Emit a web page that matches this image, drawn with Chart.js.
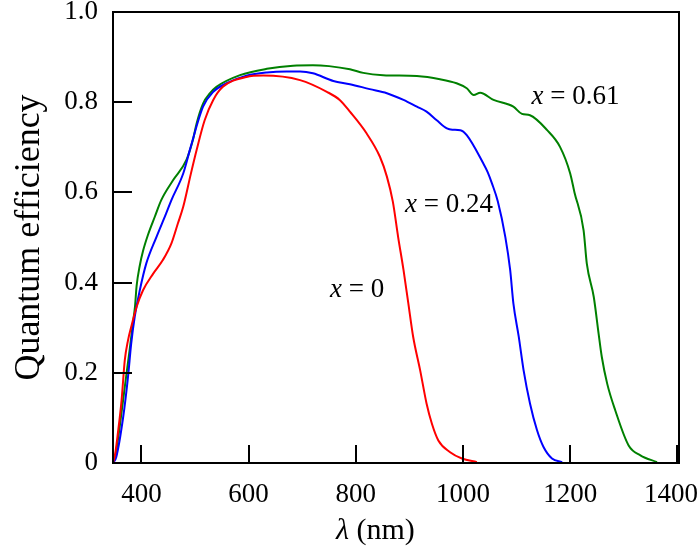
<!DOCTYPE html>
<html>
<head>
<meta charset="utf-8">
<script src="https://cdn.jsdelivr.net/npm/chart.js@4.4.1/dist/chart.umd.min.js"></script>
<style>
  html, body { margin: 0; padding: 0; background: #fff; }
  #wrap { width: 698px; height: 548px; }
</style>
</head>
<body>
<div id="wrap"><canvas id="qeChart" width="698" height="548"></canvas></div>
<script>
// wavelength (nm) and quantum efficiency
const redNm = [347, 351, 356, 363, 369, 375, 381, 391, 403, 422, 440, 456, 468, 478, 492, 503, 518, 534, 552, 596, 627, 696, 746, 770, 789, 820, 845, 858, 869, 879, 889, 898, 907, 920, 932, 942, 954, 976, 998, 1026];
const redQE = [0, 0.02, 0.065, 0.139, 0.228, 0.272, 0.302, 0.346, 0.383, 0.42, 0.45, 0.487, 0.531, 0.568, 0.64, 0.694, 0.76, 0.805, 0.834, 0.856, 0.859, 0.849, 0.823, 0.805, 0.779, 0.731, 0.679, 0.635, 0.58, 0.501, 0.428, 0.354, 0.28, 0.206, 0.132, 0.087, 0.05, 0.024, 0.01, 0.002];

const blueNm = [347, 353, 366, 375, 381, 387.5, 397, 409, 428, 446, 456, 478, 492, 515, 534, 559, 596, 634, 671, 696, 720, 758, 789, 826, 858, 889, 914, 932, 951, 970, 980, 995, 1007, 1038, 1046, 1054, 1065, 1079, 1088, 1094, 1104, 1113, 1125, 1138, 1150, 1166, 1185];
const blueQE = [0, 0.013, 0.102, 0.191, 0.265, 0.324, 0.383, 0.442, 0.501, 0.553, 0.583, 0.642, 0.701, 0.79, 0.823, 0.842, 0.859, 0.866, 0.868, 0.868, 0.864, 0.847, 0.84, 0.829, 0.82, 0.805, 0.79, 0.779, 0.76, 0.742, 0.739, 0.738, 0.727, 0.664, 0.645, 0.62, 0.58, 0.501, 0.428, 0.354, 0.28, 0.206, 0.132, 0.073, 0.036, 0.01, 0.002];

const greenNm = [347, 352, 359.5, 369, 378, 384, 388, 391, 397, 403, 412, 425, 437, 459, 484, 496, 503, 515, 528, 540, 584, 634, 683, 720, 750, 789, 814, 851, 914, 957, 988, 1007, 1020, 1032, 1057, 1094, 1110, 1125, 1157, 1181, 1200, 1208, 1225, 1231, 1244, 1253, 1259, 1269, 1284, 1309, 1331, 1362];
const greenQE = [0, 0.02, 0.08, 0.169, 0.25, 0.309, 0.346, 0.392, 0.438, 0.47, 0.505, 0.546, 0.583, 0.627, 0.672, 0.716, 0.753, 0.797, 0.82, 0.834, 0.86, 0.874, 0.881, 0.882, 0.88, 0.873, 0.865, 0.86, 0.858, 0.851, 0.842, 0.831, 0.816, 0.821, 0.805, 0.79, 0.774, 0.771, 0.738, 0.701, 0.642, 0.6, 0.516, 0.442, 0.368, 0.287, 0.235, 0.176, 0.117, 0.039, 0.017, 0.002];

const seriesNames = ['0', '0.24', '0.61'];
const xTicks = [400, 600, 800, 1000, 1200, 1400];
const xTickLabels = ['400', '600', '800', '1000', '1200', '1400'];
const yTicks = [0, 0.2, 0.4, 0.6, 0.8, 1.0];
const yTickLabels = ['0', '0.2', '0.4', '0.6', '0.8', '1.0'];

// where the "x = ..." labels sit (data coords, left edge / middle)
const labelNm = [752, 892, 1128];
const labelQE = [0.383, 0.572, 0.811];

const serif = '"Liberation Serif", "Times New Roman", serif';
const colors = ['#ff0000', '#0000ff', '#008000'];

function toPoints(xs, ys) {
  return xs.map((v, i) => ({ x: v, y: ys[i] }));
}

// no extra room for labels hanging past the plot edges
function noOverhang(axis) {
  axis.paddingTop = 0;
  axis.paddingBottom = 0;
  axis.paddingLeft = 0;
  axis.paddingRight = 0;
}

// box, inward ticks, x tick labels, x title and curve labels
const decorPlugin = {
  id: 'decor',
  afterDraw(chart) {
    const { ctx, chartArea: a, scales: { x, y } } = chart;
    ctx.save();
    ctx.strokeStyle = '#000';
    ctx.lineWidth = 2;
    ctx.strokeRect(a.left, a.top, a.right - a.left, a.bottom - a.top);
    ctx.beginPath();
    xTicks.forEach(v => {
      const px = Math.round(x.getPixelForValue(v));
      ctx.moveTo(px, a.bottom);
      ctx.lineTo(px, a.bottom - 18);
    });
    yTicks.forEach(v => {
      const py = Math.round(y.getPixelForValue(v));
      ctx.moveTo(a.left, py);
      ctx.lineTo(a.left + 19, py);
    });
    ctx.stroke();

    ctx.fillStyle = '#000';
    ctx.textBaseline = 'middle';

    // x tick labels, kept inside the canvas like the original
    ctx.font = '27px ' + serif;
    ctx.textAlign = 'center';
    xTicks.forEach((v, i) => {
      const w = ctx.measureText(xTickLabels[i]).width;
      let cx = x.getPixelForValue(v);
      cx = Math.min(cx, chart.width - w / 2);
      ctx.fillText(xTickLabels[i], cx, a.bottom + 32);
    });

    ctx.textAlign = 'left';
    // x axis title: italic lambda + (nm)
    const tx = 336, ty = 531;
    ctx.font = 'italic 30px ' + serif;
    ctx.fillText('\u03bb', tx, ty);
    const lw = ctx.measureText('\u03bb').width;
    ctx.font = '30px ' + serif;
    ctx.fillText(' (nm)', tx + lw, ty);

    // curve labels
    seriesNames.forEach((name, i) => {
      const lx = x.getPixelForValue(labelNm[i]);
      const ly = y.getPixelForValue(labelQE[i]);
      ctx.font = 'italic 27px ' + serif;
      ctx.fillText('x', lx, ly);
      const w = ctx.measureText('x').width;
      ctx.font = '27px ' + serif;
      ctx.fillText(' = ' + name, lx + w, ly);
    });
    ctx.restore();
  }
};

const datasets = [
  { label: 'x = 0', data: toPoints(redNm, redQE) },
  { label: 'x = 0.24', data: toPoints(blueNm, blueQE) },
  { label: 'x = 0.61', data: toPoints(greenNm, greenQE) }
].map((d, i) => ({
  ...d,
  borderColor: colors[i],
  backgroundColor: colors[i],
  borderWidth: 2,
  pointRadius: 0,
  cubicInterpolationMode: 'monotone',
  fill: false
}));

new Chart(document.getElementById('qeChart').getContext('2d'), {
  type: 'line',
  data: { datasets },
  options: {
    responsive: false,
    animation: false,
    layout: { padding: { top: 12, right: 19, left: 0, bottom: 0 } },
    plugins: {
      legend: { display: false },
      tooltip: { enabled: false }
    },
    scales: {
      x: {
        type: 'linear',
        min: 347,
        max: 1403,
        afterBuildTicks: axis => { axis.ticks = xTicks.map(v => ({ value: v })); },
        afterFit: axis => { axis.height = 85; noOverhang(axis); },
        grid: { display: false, drawTicks: false },
        border: { display: true, color: '#000', width: 2 },
        ticks: { display: false }
      },
      y: {
        type: 'linear',
        min: 0,
        max: 1,
        afterBuildTicks: axis => { axis.ticks = yTicks.map(v => ({ value: v })); },
        afterFit: axis => { axis.width = 113; noOverhang(axis); },
        grid: { display: false, drawTicks: false },
        border: { display: true, color: '#000', width: 2 },
        ticks: {
          padding: 15,
          color: '#000',
          font: { family: serif, size: 27 },
          callback: (v) => yTickLabels[yTicks.indexOf(v)]
        },
        title: {
          display: true,
          text: 'Quantum efficiency',
          color: '#000',
          font: { family: serif, size: 36 },
          padding: { top: 8, bottom: 0 }
        }
      }
    }
  },
  plugins: [decorPlugin]
});
</script>
</body>
</html>
